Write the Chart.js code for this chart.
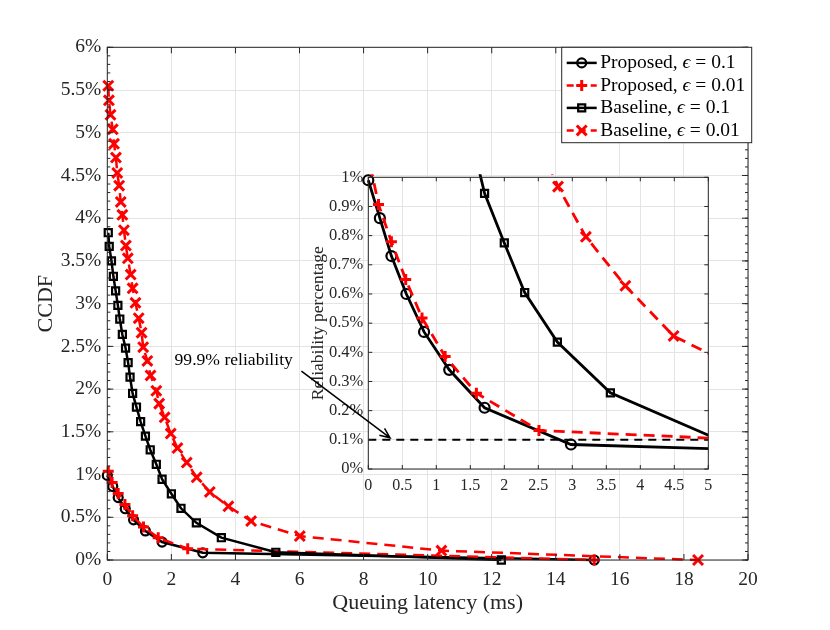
<!DOCTYPE html>
<html>
<head>
<meta charset="utf-8">
<script src="https://cdn.jsdelivr.net/npm/chart.js@4.4.0/dist/chart.umd.min.js"></script>
<style>
  html, body { margin: 0; padding: 0; background: #fff; }
  #wrap { position: relative; width: 830px; height: 630px; }
  #wrap canvas { position: absolute; left: 0; top: 0; }
</style>
</head>
<body>
<div id="wrap">
  <canvas id="mainChart" width="830" height="630"></canvas>
  <canvas id="insetChart" width="830" height="630"></canvas>
</div>
<script>
const SERIF = "'Liberation Serif', 'Times New Roman', 'DejaVu Serif', serif";
const AXIS = '#262626';
const GRID = '#e4e4e4';

// Proposed, eps = 0.1
const propLat1 = [0, 0.17, 0.34, 0.56, 0.82, 1.19, 1.71, 2.98, 15.2];
const propCcdf1 = [0.99, 0.86, 0.73, 0.60, 0.47, 0.34, 0.21, 0.084, 0.0];

// Proposed, eps = 0.01
const propLat2 = [0.03, 0.15, 0.34, 0.55, 0.79, 1.13, 1.59, 2.51, 15.2];
const propCcdf2 = [1.04, 0.907, 0.779, 0.650, 0.518, 0.386, 0.260, 0.132, 0.0];

// Baseline, eps = 0.1
const baseLat1 = [0.03, 0.06, 0.13, 0.19, 0.26, 0.33, 0.39, 0.47, 0.57, 0.65, 0.71, 0.79,
                  0.91, 1.04, 1.19, 1.34, 1.53, 1.71, 2.0, 2.30, 2.78, 3.56, 5.26, 12.3];
const baseCcdf1 = [3.83, 3.67, 3.50, 3.32, 3.15, 2.98, 2.82, 2.64, 2.48, 2.31, 2.14, 1.95,
                   1.79, 1.62, 1.45, 1.29, 1.12, 0.945, 0.775, 0.605, 0.435, 0.261, 0.09, 0.0];

// Baseline, eps = 0.01
const baseLat2 = [0.03, 0.05, 0.10, 0.17, 0.21, 0.27, 0.31, 0.37, 0.42, 0.47, 0.52, 0.58,
                  0.64, 0.73, 0.79, 0.88, 0.98, 1.07, 1.12, 1.25, 1.35, 1.53, 1.62, 1.79,
                  1.98, 2.19, 2.48, 2.79, 3.20, 3.78, 4.49, 6.01, 10.43, 18.44];
const baseCcdf2 = [5.55, 5.38, 5.21, 5.04, 4.87, 4.71, 4.53, 4.38, 4.19, 4.04, 3.86, 3.68,
                   3.53, 3.34, 3.18, 3.01, 2.83, 2.66, 2.49, 2.33, 2.16, 1.98, 1.83, 1.67,
                   1.48, 1.31, 1.14, 0.968, 0.796, 0.628, 0.456, 0.28, 0.11, 0.0];

// 99.9% reliability threshold in the inset
const thresholdLat = [0, 5];
const thresholdCcdf = [0.1, 0.1];

const schemeNames = ['Proposed', 'Proposed', 'Baseline', 'Baseline'];
const epsValues = ['0.1', '0.01', '0.1', '0.01'];
const noteText = '99.9% reliability';

function pts(xs, ys) {
    return xs.map((x, i) => ({ x: x, y: ys[i] }));
}

function makeSets(inset) {
    const clip = inset ? { left: 8, top: 3, right: 0, bottom: 8 } : 10;
    const lw = inset ? 2.8 : 2.5;
    const sets = [
        { data: pts(propLat1, propCcdf1), borderColor: '#000', pointStyle: 'circle',
          pointRadius: inset ? 5 : 4.5, pointBorderWidth: 2.2, borderDash: [] },
        { data: pts(propLat2, propCcdf2), borderColor: '#ff0000', pointStyle: 'cross',
          pointRadius: 5.5, pointBorderWidth: 3, borderDash: [11, 7] },
        { data: pts(baseLat1, baseCcdf1), borderColor: '#000', pointStyle: 'rect',
          pointRadius: 5, pointBorderWidth: 2.2, borderDash: [] },
        { data: pts(baseLat2, baseCcdf2), borderColor: '#ff0000', pointStyle: 'crossRot',
          pointRadius: 7, pointBorderWidth: 3, borderDash: [11, 7] }
    ];
    sets.forEach((s, i) => {
        s.label = schemeNames[i] + ', eps = ' + epsValues[i];
        s.showLine = true;
        s.borderWidth = lw;
        s.pointBorderColor = s.borderColor;
        s.pointBackgroundColor = 'rgba(0,0,0,0)';
        s.pointHoverRadius = s.pointRadius;
        s.clip = clip;
        s.order = 4 - i;
    });
    if (inset) {
        sets.push({ label: 'threshold', data: pts(thresholdLat, thresholdCcdf), showLine: true,
            borderColor: '#000', borderWidth: 2, borderDash: [8, 6], pointRadius: 0, order: 6, clip: 0 });
    }
    return sets;
}

function pct(v) {
    return (+v.toFixed(1)) + '%';
}

function num(v) {
    return String(+v.toFixed(1));
}

// axes box with inward ticks, MATLAB style
const framePlugin = {
    id: 'frame',
    beforeDraw(chart, args, opts) {
        if (!opts.fill) return;
        const a = chart.chartArea;
        chart.ctx.save();
        chart.ctx.fillStyle = '#fff';
        chart.ctx.fillRect(a.left, a.top, a.width, a.height);
        chart.ctx.restore();
    },
    afterDatasetsDraw(chart, args, opts) {
        const ctx = chart.ctx, a = chart.chartArea;
        const xs = chart.scales.x, ys = chart.scales.y;
        ctx.save();
        ctx.strokeStyle = AXIS;
        ctx.lineWidth = 1;
        ctx.beginPath();
        xs.ticks.forEach(t => {
            const p = xs.getPixelForValue(t.value);
            ctx.moveTo(p, a.bottom); ctx.lineTo(p, a.bottom - opts.tick);
            ctx.moveTo(p, a.top); ctx.lineTo(p, a.top + opts.tick);
        });
        ys.ticks.forEach(t => {
            const p = ys.getPixelForValue(t.value);
            ctx.moveTo(a.left, p); ctx.lineTo(a.left + opts.tick, p);
            ctx.moveTo(a.right, p); ctx.lineTo(a.right - opts.tick, p);
        });
        if (opts.minorY) {
            const n = Math.round((ys.max - ys.min) / opts.minorY);
            for (let i = 0; i <= n; i++) {
                const p = ys.getPixelForValue(ys.min + i * opts.minorY);
                ctx.moveTo(a.left, p); ctx.lineTo(a.left + opts.tick / 2, p);
                ctx.moveTo(a.right, p); ctx.lineTo(a.right - opts.tick / 2, p);
            }
        }
        ctx.stroke();
        ctx.strokeRect(a.left, a.top, a.width, a.height);
        ctx.restore();
    }
};

const legendPlugin = {
    id: 'boxLegend',
    afterDraw(chart, args, opts) {
        if (!opts.show) return;
        const ctx = chart.ctx, a = chart.chartArea;
        const left = a.right - 186.3, top = a.top, w = 190, h = 95.4;
        ctx.save();
        ctx.fillStyle = '#fff';
        ctx.fillRect(left, top, w, h);
        ctx.strokeStyle = AXIS;
        ctx.lineWidth = 1;
        ctx.strokeRect(left, top, w, h);
        ctx.textBaseline = 'middle';
        ctx.fillStyle = '#000';
        for (let i = 0; i < 4; i++) {
            const ds = chart.data.datasets[i];
            const y = top + 15.6 + i * 22.5;
            ctx.strokeStyle = ds.borderColor;
            ctx.lineWidth = ds.borderWidth;
            ctx.setLineDash(ds.borderDash.length ? [7, 5] : []);
            ctx.beginPath();
            ctx.moveTo(left + 5, y);
            ctx.lineTo(left + 35, y);
            ctx.stroke();
            ctx.setLineDash([]);
            ctx.lineWidth = ds.pointBorderWidth;
            ctx.fillStyle = 'rgba(0,0,0,0)';
            Chart.helpers.drawPoint(ctx, { pointStyle: ds.pointStyle, radius: ds.pointRadius,
                borderWidth: ds.pointBorderWidth, rotation: 0 }, left + 20, y);
            ctx.fillStyle = '#000';
            let x = left + 38.5;
            ctx.font = '19.5px ' + SERIF;
            const head = schemeNames[i] + ', ';
            ctx.fillText(head, x, y);
            x += ctx.measureText(head).width;
            ctx.font = 'italic 19.5px ' + SERIF;
            ctx.fillText('\u03f5', x, y);
            x += ctx.measureText('\u03f5').width;
            ctx.font = '19.5px ' + SERIF;
            ctx.fillText(' = ' + epsValues[i], x, y);
        }
        ctx.restore();
    }
};

Chart.register(framePlugin, legendPlugin);

function axisFont(size) {
    return { family: SERIF, size: size };
}

const mainChart = new Chart(document.getElementById('mainChart'), {
    type: 'scatter',
    data: { datasets: makeSets(false) },
    options: {
        responsive: false,
        animation: false,
        events: [],
        layout: { padding: { left: 0, top: 47.3, right: 82, bottom: 0 } },
        plugins: {
            legend: { display: false },
            tooltip: { enabled: false },
            frame: { tick: 6, minorY: 0.1 },
            boxLegend: { show: true }
        },
        scales: {
            x: {
                type: 'linear', min: 0, max: 20,
                ticks: { stepSize: 2, color: AXIS, font: axisFont(19.5), padding: 8, maxRotation: 0, autoSkip: false },
                grid: { color: GRID, drawTicks: false },
                border: { display: false },
                title: { display: true, text: 'Queuing latency (ms)', color: AXIS, font: axisFont(22),
                         padding: { top: 0, bottom: 14 } },
                afterFit: s => { s.height = 70; }
            },
            y: {
                min: 0, max: 6,
                ticks: { stepSize: 0.5, color: AXIS, font: axisFont(19.5), padding: 6, callback: pct },
                grid: { color: GRID, drawTicks: false },
                border: { display: false },
                title: { display: true, text: 'CCDF', color: AXIS, font: axisFont(22),
                         padding: { top: 33, bottom: 0 } },
                afterFit: s => { s.width = 107.3; }
            }
        }
    }
});

// annotation: text + arrow pointing at the threshold in the inset
const noteAt = { x: 2.1, y: 2.34 };
const arrowFrom = { x: 6.06, y: 2.21 };
const arrowTo = { x: 0.32, y: 0.1 };

const notePlugin = {
    id: 'note',
    afterDraw(chart, args, opts) {
        if (!opts.show) return;
        const ctx = chart.ctx;
        const mx = mainChart.scales.x, my = mainChart.scales.y;
        ctx.save();
        ctx.fillStyle = '#000';
        ctx.font = '17.6px ' + SERIF;
        ctx.textBaseline = 'middle';
        ctx.fillText(noteText, mx.getPixelForValue(noteAt.x), my.getPixelForValue(noteAt.y));
        const x0 = mx.getPixelForValue(arrowFrom.x), y0 = my.getPixelForValue(arrowFrom.y);
        const x1 = chart.scales.x.getPixelForValue(arrowTo.x), y1 = chart.scales.y.getPixelForValue(arrowTo.y) - 2;
        ctx.strokeStyle = '#000';
        ctx.lineWidth = 1.5;
        ctx.beginPath();
        ctx.moveTo(x0, y0);
        ctx.lineTo(x1, y1);
        const ang = Math.atan2(y1 - y0, x1 - x0);
        ctx.moveTo(x1 - 11 * Math.cos(ang - 0.4), y1 - 11 * Math.sin(ang - 0.4));
        ctx.lineTo(x1, y1);
        ctx.lineTo(x1 - 11 * Math.cos(ang + 0.4), y1 - 11 * Math.sin(ang + 0.4));
        ctx.stroke();
        ctx.restore();
    }
};

const insetChart = new Chart(document.getElementById('insetChart'), {
    type: 'scatter',
    data: { datasets: makeSets(true) },
    plugins: [notePlugin],
    options: {
        responsive: false,
        animation: false,
        events: [],
        layout: { padding: { left: 308.3, top: 177.3, right: 121.7, bottom: 131 } },
        plugins: {
            legend: { display: false },
            tooltip: { enabled: false },
            frame: { tick: 4, fill: true },
            boxLegend: { show: false },
            note: { show: true }
        },
        scales: {
            x: {
                type: 'linear', min: 0, max: 5,
                ticks: { stepSize: 0.5, color: AXIS, font: axisFont(16), padding: 7, maxRotation: 0,
                         autoSkip: false, callback: num },
                grid: { color: GRID, drawTicks: false },
                border: { display: false },
                afterFit: s => { s.height = 30; }
            },
            y: {
                min: 0, max: 1,
                ticks: { stepSize: 0.1, color: AXIS, font: axisFont(16.5), padding: 5, callback: pct, autoSkip: false },
                grid: { color: GRID, drawTicks: false },
                border: { display: false },
                title: { display: true, text: 'Reliability percentage', color: AXIS, font: axisFont(17.5),
                         padding: { top: 0, bottom: 0 } },
                afterFit: s => { s.width = 60; }
            }
        }
    }
});
</script>
</body>
</html>
